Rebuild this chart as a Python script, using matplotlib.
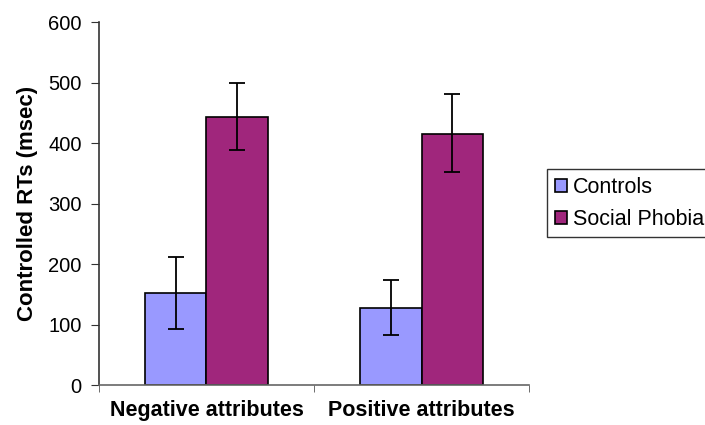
import numpy as np
import matplotlib.pyplot as plt

plt.rcParams['font.family'] = ['Liberation Sans', 'DejaVu Sans']

categories = ['Negative attributes', 'Positive attributes']
controls = [152, 127]
controls_lo = [92, 82]
controls_hi = [212, 174]
phobia = [443, 415]
phobia_lo = [389, 353]
phobia_hi = [500, 481]

fig = plt.figure(figsize=(7.05, 4.25), dpi=100)
ax = fig.add_axes([0.1404, 0.094, 0.61, 0.854])

x = np.arange(len(categories))
w = 0.288
err_c = [np.subtract(controls, controls_lo), np.subtract(controls_hi, controls)]
err_p = [np.subtract(phobia, phobia_lo), np.subtract(phobia_hi, phobia)]

ax.bar(x - w / 2, controls, w, color='#9999FF', edgecolor='black', linewidth=1.2,
       yerr=err_c, capsize=6, error_kw=dict(elinewidth=1.3, capthick=1.3), label='Controls')
ax.bar(x + w / 2, phobia, w, color='#A0267C', edgecolor='black', linewidth=1.2,
       yerr=err_p, capsize=6, error_kw=dict(elinewidth=1.3, capthick=1.3), label='Social Phobia')

ax.set_xlim(-0.5, 1.5)
ax.set_ylim(0, 600)
ax.set_yticks(range(0, 601, 100))
ax.tick_params(axis='y', labelsize=14.5, length=5.5, pad=7, color='#333333')
ax.set_xticks(x)
ax.set_xticklabels(categories, fontsize=15.5, fontweight='bold')
ax.tick_params(axis='x', length=0, pad=11)
ax.set_xticks([-0.5, 0.5, 1.5], minor=True)
ax.tick_params(axis='x', which='minor', length=5, color='#555555')
ax.set_ylabel('Controlled RTs (msec)', fontsize=16, fontweight='bold', labelpad=7)

for s in ['top', 'right']:
    ax.spines[s].set_visible(False)
ax.spines['left'].set_color('#333333')
ax.spines['left'].set_linewidth(1.2)
ax.spines['bottom'].set_color('#666666')
ax.spines['bottom'].set_linewidth(1.2)

leg = fig.legend(loc='upper left', bbox_to_anchor=(0.776, 0.602), fontsize=15.5,
                 frameon=True, fancybox=False, edgecolor='black', handlelength=0.55,
                 handleheight=0.55, handletextpad=0.3, borderpad=0.36, labelspacing=0.5,
                 borderaxespad=0)
leg.get_frame().set_linewidth(1)

fig.savefig('out.png', dpi=100)
